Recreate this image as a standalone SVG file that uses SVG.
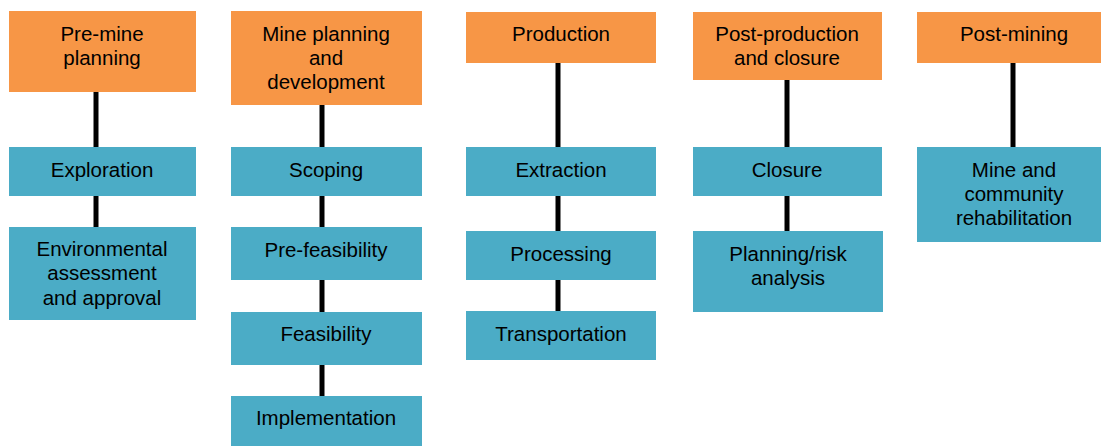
<svg xmlns="http://www.w3.org/2000/svg" width="1102" height="446" viewBox="0 0 1102 446">
<style>
.h{fill:#F79646}
.s{fill:#4BACC6}
text{font-family:"Liberation Sans",Arial,sans-serif;font-size:20.5px;fill:#000;text-anchor:middle}
.c line{stroke:#000;stroke-width:5}
</style>
<rect width="1102" height="446" fill="#fff"/>
<g class="c" id="connectors">
<line x1="96" y1="92" x2="96" y2="147"/>
<line x1="96" y1="196" x2="96" y2="227"/>
<line x1="322" y1="105" x2="322" y2="147"/>
<line x1="322" y1="196" x2="322" y2="227"/>
<line x1="322" y1="280" x2="322" y2="312"/>
<line x1="322" y1="365" x2="322" y2="396"/>
<line x1="558" y1="63" x2="558" y2="147"/>
<line x1="558" y1="196" x2="558" y2="231"/>
<line x1="558" y1="280" x2="558" y2="311"/>
<line x1="787" y1="80" x2="787" y2="147"/>
<line x1="787" y1="196" x2="787" y2="231"/>
<line x1="1013" y1="63" x2="1013" y2="147"/>
</g>
<g id="pre-mine"><rect class="h" x="9" y="11" width="187" height="81"/><text x="102" y="41">Pre-mine</text><text x="102" y="65">planning</text></g>
<g id="exploration"><rect class="s" x="9" y="147" width="187" height="49"/><text x="102" y="177">Exploration</text></g>
<g id="env"><rect class="s" x="9" y="227" width="187" height="93"/><text x="102" y="256">Environmental</text><text x="102" y="280">assessment</text><text x="102" y="305">and approval</text></g>
<g id="mine-planning"><rect class="h" x="231" y="11" width="191" height="94"/><text x="326" y="41">Mine planning</text><text x="326" y="65">and</text><text x="326" y="89">development</text></g>
<g id="scoping"><rect class="s" x="231" y="147" width="191" height="49"/><text x="326" y="177">Scoping</text></g>
<g id="prefeas"><rect class="s" x="231" y="227" width="191" height="53"/><text x="326" y="257">Pre-feasibility</text></g>
<g id="feas"><rect class="s" x="231" y="312" width="191" height="53"/><text x="326" y="341">Feasibility</text></g>
<g id="impl"><rect class="s" x="231" y="396" width="191" height="50"/><text x="326" y="425">Implementation</text></g>
<g id="production"><rect class="h" x="466" y="12" width="190" height="51"/><text x="561" y="41">Production</text></g>
<g id="extraction"><rect class="s" x="466" y="147" width="190" height="49"/><text x="561" y="177">Extraction</text></g>
<g id="processing"><rect class="s" x="466" y="231" width="190" height="49"/><text x="561" y="261">Processing</text></g>
<g id="transport"><rect class="s" x="466" y="311" width="190" height="49"/><text x="561" y="341">Transportation</text></g>
<g id="post-production"><rect class="h" x="693" y="12" width="189" height="68"/><text x="787" y="41">Post-production</text><text x="787" y="65">and closure</text></g>
<g id="closure"><rect class="s" x="693" y="147" width="189" height="49"/><text x="787" y="177">Closure</text></g>
<g id="planning-risk"><rect class="s" x="693" y="231" width="190" height="81"/><text x="788" y="261">Planning/risk</text><text x="788" y="285">analysis</text></g>
<g id="post-mining"><rect class="h" x="917" y="12" width="184" height="51"/><text x="1014" y="41">Post-mining</text></g>
<g id="rehab"><rect class="s" x="917" y="147" width="184" height="95"/><text x="1014" y="177">Mine and</text><text x="1014" y="201">community</text><text x="1014" y="225">rehabilitation</text></g>
</svg>
